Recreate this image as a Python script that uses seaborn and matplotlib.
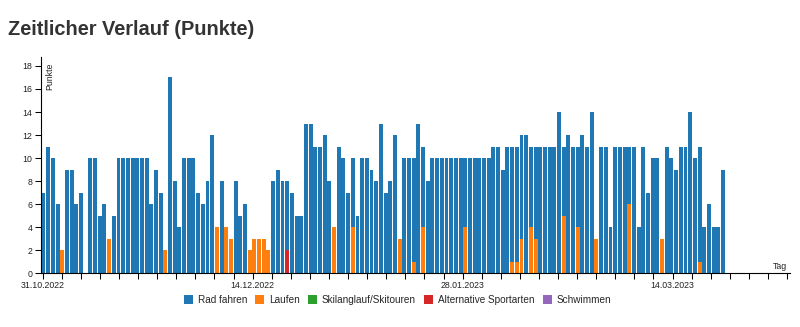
import numpy as np
import pandas as pd
import matplotlib
matplotlib.use("Agg")
import matplotlib.pyplot as plt
from matplotlib.patches import Patch
import seaborn as sns

# ---------------- data ----------------
dates = pd.date_range("2022-10-31", "2023-03-25", freq="D")

rad_fahren = [7, 11, 10, 6, 0, 9, 9, 6, 7, 0,
              10, 10, 5, 6, 0, 5, 10, 10, 10, 10,
              10, 10, 10, 6, 9, 7, 0, 17, 8, 4,
              10, 10, 10, 7, 6, 8, 12, 0, 8, 0,
              0, 8, 5, 6, 0, 0, 0, 0, 0, 8,
              9, 8, 8, 7, 5, 5, 13, 13, 11, 11,
              12, 8, 0, 11, 10, 7, 10, 5, 10, 10,
              9, 8, 13, 7, 8, 12, 0, 10, 10, 10,
              13, 11, 8, 10, 10, 10, 10, 10, 10, 10,
              10, 10, 10, 10, 10, 10, 11, 11, 9, 11,
              11, 11, 12, 12, 11, 11, 11, 11, 11, 11,
              14, 11, 12, 11, 11, 12, 11, 14, 0, 11,
              11, 4, 11, 11, 11, 11, 11, 4, 11, 7,
              10, 10, 0, 11, 10, 9, 11, 11, 14, 10,
              11, 4, 6, 4, 4, 9]

laufen = [0, 0, 0, 0, 2, 0, 0, 0, 0, 0,
          0, 0, 0, 0, 3, 0, 0, 0, 0, 0,
          0, 0, 0, 0, 0, 0, 2, 0, 0, 0,
          0, 0, 0, 0, 0, 0, 0, 4, 0, 4,
          3, 0, 0, 0, 2, 3, 3, 3, 2, 0,
          0, 0, 0, 0, 0, 0, 0, 0, 0, 0,
          0, 0, 4, 0, 0, 0, 4, 0, 0, 0,
          0, 0, 0, 0, 0, 0, 3, 0, 0, 1,
          0, 4, 0, 0, 0, 0, 0, 0, 0, 0,
          4, 0, 0, 0, 0, 0, 0, 0, 0, 0,
          1, 1, 3, 0, 4, 3, 0, 0, 0, 0,
          0, 5, 0, 0, 4, 0, 0, 0, 3, 0,
          0, 0, 0, 0, 0, 6, 0, 0, 0, 0,
          0, 0, 3, 0, 0, 0, 0, 0, 0, 0,
          1, 0, 0, 0, 0, 0]

skilanglauf = [0] * 146
alternative = [0] * 52 + [2] + [0] * 93
schwimmen = [0] * 146

sports = ["Rad fahren", "Laufen", "Skilanglauf/Skitouren",
          "Alternative Sportarten", "Schwimmen"]
colors = ["#1f77b4", "#ff7f0e", "#2ca02c", "#d62728", "#9467bd"]
y_ticks = list(range(0, 19, 2))
date_labels = ["31.10.2022", "14.12.2022", "28.01.2023", "14.03.2023"]

# ---------------- figure ----------------
sns.set_style("white")
plt.rcParams["font.family"] = ["Liberation Sans", "DejaVu Sans"]

fig = plt.figure(figsize=(8.0, 3.27), dpi=100)
ax = fig.add_axes([40.5 / 800, 53.7 / 327, 749.5 / 800, 216.6 / 327])

day = (dates - dates[0]).days
df = pd.DataFrame({"day": day,
                   sports[0]: rad_fahren,
                   sports[1]: laufen,
                   sports[2]: skilanglauf,
                   sports[3]: alternative,
                   sports[4]: schwimmen})

for sport, col in zip(sports, colors):
    sub = df[df[sport] > 0]
    if len(sub) == 0:
        continue
    sns.barplot(data=sub, x="day", y=sport, native_scale=True, width=0.84,
                color=col, saturation=1, linewidth=0, errorbar=None, ax=ax)

# axes styling
step = 19.09 / 4.687
xt = [-0.17 + step * k for k in range(40)]
ax.set_xlim(-0.64, 159.3)
ax.set_ylim(0, 18.8)
ax.set_xticks(xt)
lab = [""] * 40
for i, t in zip([0, 11, 22, 33], date_labels):
    lab[i] = t
ax.set_xticklabels(lab)
ax.set_yticks(y_ticks)
ax.set_yticklabels([str(v) for v in y_ticks])
ax.set_xlabel("")
ax.set_ylabel("")
for s in ["top", "right"]:
    ax.spines[s].set_visible(False)
for s in ["left", "bottom"]:
    ax.spines[s].set_color("black")
    ax.spines[s].set_linewidth(0.8)
ax.tick_params(axis="both", direction="out", length=4.3, width=0.75,
               color="black", labelsize=6.3, pad=1.5, labelcolor="#222222",
               bottom=True, left=True)

ax.text(0.012, 0.971, "Punkte", transform=ax.transAxes, rotation=90,
        ha="center", va="top", fontsize=6.3, color="#222222")
ax.text(0.996, 0.012, "Tag", transform=ax.transAxes, ha="right",
        va="bottom", fontsize=6.3, color="#222222")

fig.text(8 / 800, 1 - 35 / 327, "Zeitlicher Verlauf (Punkte)",
         fontsize=14.4, fontweight="bold", color="#333333", va="baseline")

handles = [Patch(facecolor=c, edgecolor="none") for c in colors]
fig.legend(handles, sports, loc="center", bbox_to_anchor=(397.5 / 800, 1 - 300 / 327),
           ncol=5, frameon=False, fontsize=7.2, handlelength=0.9, handleheight=0.9,
           handletextpad=0.5, columnspacing=0.8, borderaxespad=0)

fig.savefig("out.png", dpi=100)
